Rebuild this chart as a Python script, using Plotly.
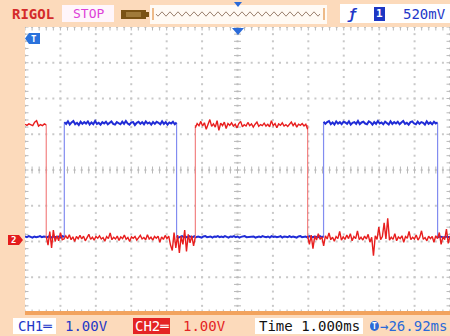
import numpy as np
import plotly.graph_objects as go

W, H = 450, 336

# ---------------- data (oscilloscope capture) ----------------
time_range = [-6.0, 6.0]     # ms (1.000 ms/div, 12 div)
div_range = [-4.0, 4.0]      # vertical divisions

ch1_scale = 1.00   # V/div
ch2_scale = 1.00   # V/div
ch1_offset = -1.87  # div
ch2_offset = -1.90  # div

# CH1 (blue): edge times (ms) and logic levels (V)
ch1_edges = [-6.0, -4.89, -1.72, 2.43, 5.65, 6.0]
ch1_levels = [0.0, 3.18, 0.0, 3.18, 0.0]
# noise, in units of 10 mV, one list per segment
ch1_noise_0 = [1, -1, 2, 0, -2, 1, -1, 0, 2, -1, 1, 0, -1, 2, -2, 1, 0, -1, 1, -2, 2, 0]
ch1_noise_1 = [3, -2, 5, -4, 2, 6, -3, 1, -5, 4, -2, 3, -1, 5, -4, 2, -3, 6, -2, 1,
               -4, 3, -1, 4, -3, 2, 5, -2, -4, 3, 1, -3, 4, -2, 6, -1, -4, 2, 3, -5,
               1, 4, -2, 3, -3, 5, -1, 2, -4, 3, -2, 4, 1, -3, 5, -2, 3, -4, 2, -1,
               4, -3, 2]
ch1_noise_2 = [1, -2, 0, 2, -1, 1, -2, 2, 0, -1, 2, -1, 1, 0, -2, 1, 2, -1, 0, 1,
               -2, 1, 0, 2, -1, 1, -1, 2, 0, -2, 1, 0, 2, -1, 1, -2, 0, 1, 2, -1,
               0, -1, 2, 1, -2, 0, 1, -1, 2, 0, -1, 1, -2, 2, 0, 1, -1, 0, 2, -2,
               1, 0, -1, 2, -1, 1, 0, -2, 1, 2, -1, 0, 1, -2, 2, 0, -1, 1, 0, -1,
               2, -1, 1]
ch1_noise_3 = [4, -2, 3, 6, -3, 2, -4, 5, -1, 3, -3, 4, 2, -2, 5, -4, 1, 3, -2, 6,
               -3, 2, 4, -1, -3, 5, 2, -4, 3, -2, 6, -1, 2, -3, 4, 1, -4, 5, -2, 3,
               -1, 4, -3, 2, 6, -2, 1, -4, 3, 5, -1, -3, 4, -2, 3, 1, -4, 5, -2, 2,
               -3, 4, -1, 2]
ch1_noise_4 = [-1, 1, 0, -2, 1, 0, -1]

# CH2 (red)
ch2_edges = [-6.0, -5.40, -1.19, 1.98, 6.0]
ch2_levels = [3.16, 0.0, 3.16, 0.0]
ch2_noise_0 = [2, -1, 3, 0, -2, 8, 12, -3, 1, -2, 3, 0]
ch2_noise_1 = [4, -20, 18, -28, 22, -10, 6, -8, 15, -5,
               -3, 6, -2, 9, -5, 3, -10, 4, -2, 7,
               -3, 5, -8, 2, 10, -4, 2, -6, 4, -1,
               6, -3, 1, -9, 4, -2, 14, -5, 2, -3,
               5, -7, 3, -2, 8, -4, 1, -10, 3, -1,
               4, -6, 2, 7, -3, 1, -5, 9, -3, 2,
               -6, 4, -1, 5, -12, 3, -4, 7, -2, 5,
               -20, -35, 15, -28, 8, -42, 5, -18, 22, -38,
               10, -14, 6, -22, 3]
ch2_noise_2 = [-8, 4, -2, 10, -3, 6, -12, 2, 15, -4,
               3, -6, 12, -15, 5, -2, 8, -10, 4, -1,
               6, -3, 2, -8, 4, 10, -5, 1, -3, 7,
               -2, 3, -6, 2, 8, -4, 1, -2, 5, -3,
               2, -5, 12, -2, 4, -8, 3, -1, 6, -3,
               1, -4, 3, 8, -2, 5, -6, 2, -1, 4,
               -3, 2, -12]
ch2_noise_3 = [6, -18, 8, -30, 5, -6, 12, -4, 3, -22,
               6, -3, 14, -5, 2, -9, 4, -2, 18, -6,
               3, -4, 8, -2, 12, -8, 4, -2, 20, -5,
               2, -6, 5, -3, 10, -12, 2, -50, 6, -4,
               30, -5, 4, 42, -3, 55, -6, 2, -4, 12,
               -8, 3, -2, 6, -12, 4, -1, 18, -5, 2,
               -3, 8, -6, 2, 20, -4, 1, -8, 5, -2,
               4, -12, 6, -2, 15, -18, 3, -5, 25, -15,
               5]

ch1_noise = [ch1_noise_0, ch1_noise_1, ch1_noise_2, ch1_noise_3, ch1_noise_4]
ch2_noise = [ch2_noise_0, ch2_noise_1, ch2_noise_2, ch2_noise_3]

# status bar texts
txt_brand = "RIGOL"
txt_state = "STOP"
txt_trig_level = "520mV"
txt_ch1 = "CH1═"
txt_ch1_scale = "1.00V"
txt_ch2 = "CH2═"
txt_ch2_scale = "1.00V"
txt_time = "Time 1.000ms"
txt_delay = "→26.92ms"

# ---------------- styles ----------------
PEACH = "#fcdabb"
BLUE = "rgb(32,44,214)"
BLUE_EDGE = "rgb(130,140,240)"
RED = "rgb(232,30,30)"
RED_EDGE = "rgb(242,130,130)"
MONO = "DejaVu Sans Mono"


def build(edges, levels, noise, scale, offset):
    xs, ys, ex, ey = [], [], [], []
    for k in range(len(levels)):
        n = noise[k]
        t = np.linspace(edges[k], edges[k + 1], len(n))
        v = levels[k] + np.array(n) / 100.0
        xs += list(t) + [None]
        ys += list(v / scale + offset) + [None]
        if k + 1 < len(levels):
            ex += [edges[k + 1], edges[k + 1], None]
            ey += [levels[k] / scale + offset, levels[k + 1] / scale + offset, None]
    return xs, ys, ex, ey


fig = go.Figure()

# ---- graticule ----
gx, gy = [], []
for xv in range(-6, 7):
    for yv in np.arange(-4, 4.001, 0.2):
        gx.append(xv); gy.append(yv)
for yv in range(-4, 5):
    for xv in np.arange(-6, 6.001, 0.2):
        gx.append(xv); gy.append(yv)
fig.add_trace(go.Scatter(x=gx, y=gy, mode="markers", hoverinfo="skip",
                         marker=dict(symbol="square", size=2, color="#c8c8c8", line=dict(width=0))))
tx = list(np.arange(-6, 6.001, 0.2))
fig.add_trace(go.Scatter(x=tx * 3, y=[0] * len(tx) + [4] * len(tx) + [-4] * len(tx),
                         mode="markers", hoverinfo="skip",
                         marker=dict(symbol="line-ns", size=5, line=dict(width=1, color="#b8b8b8"))))
ty = list(np.arange(-4, 4.001, 0.2))
fig.add_trace(go.Scatter(x=[0] * len(ty) + [-6] * len(ty) + [6] * len(ty), y=ty * 3,
                         mode="markers", hoverinfo="skip",
                         marker=dict(symbol="line-ew", size=5, line=dict(width=1, color="#b8b8b8"))))

# ---- traces ----
b_x, b_y, b_ex, b_ey = build(ch1_edges, ch1_levels, ch1_noise, ch1_scale, ch1_offset)
r_x, r_y, r_ex, r_ey = build(ch2_edges, ch2_levels, ch2_noise, ch2_scale, ch2_offset)

fig.add_trace(go.Scatter(x=b_ex, y=b_ey, mode="lines", line=dict(color=BLUE_EDGE, width=1.2), hoverinfo="skip"))
fig.add_trace(go.Scatter(x=b_x, y=b_y, mode="lines", line=dict(color=BLUE, width=2), name="CH1"))
fig.add_trace(go.Scatter(x=r_ex, y=r_ey, mode="lines", line=dict(color=RED_EDGE, width=1.2), hoverinfo="skip"))
fig.add_trace(go.Scatter(x=r_x, y=r_y, mode="lines", line=dict(color=RED, width=1.4), name="CH2"))


def P(px, py):
    return px / W, 1 - py / H


shapes = []
annos = []


def rect(x0, y0, x1, y1, fill, line=None):
    a, b = P(x0, y0)
    c, d = P(x1, y1)
    shapes.append(dict(type="rect", xref="paper", yref="paper", x0=a, y0=b, x1=c, y1=d,
                       fillcolor=fill, line=dict(width=0 if line is None else 1, color=line or fill),
                       layer="above"))


def path(pts, fill, closed=True, lw=0, lc=None):
    s = ""
    for i, (px, py) in enumerate(pts):
        a, b = P(px, py)
        s += ("M" if i == 0 else "L") + f"{a:.5f},{b:.5f}"
    if closed:
        s += "Z"
    shapes.append(dict(type="path", xref="paper", yref="paper", path=s,
                       fillcolor=fill if closed else None,
                       line=dict(width=lw, color=lc or fill), layer="above"))


def text(px, py, s, color, size=13, anchor="center", bg=None, bold=False):
    a, b = P(px, py)
    annos.append(dict(x=a, y=b, xref="paper", yref="paper", text=(f"<b>{s}</b>" if bold else s),
                      showarrow=False, xanchor=anchor, yanchor="middle",
                      font=dict(family=MONO, size=size, color=color),
                      bgcolor=bg, borderpad=0))


# bottom orange rule of screen
rect(25, 311, 450, 315, "#f2a35e")

# ---- header ----
text(11, 14, txt_brand, "#d42a2a", size=14, anchor="left", bold=True)
rect(62, 5, 114, 22, "#fff6fb")
text(88, 14, txt_state, "#dd3fd8", size=13)
# battery-like icon
rect(121, 10, 146, 19, "#7a5214")
rect(146, 12, 149, 17, "#7a5214")
rect(126, 12, 141, 17, "#a07a3a")
# memory strip
rect(150, 5, 327, 24, "#fffaf4")
path([(153, 8), (153, 20)], None, closed=False, lw=1.5, lc="#e7a465")
path([(324, 8), (324, 20)], None, closed=False, lw=1.5, lc="#e7a465")
zz = [(156 + i * 2.0, 14 + (2.2 if (i // 2) % 2 == 0 else -2.2) * (i % 2)) for i in range(0, 83)]
path(zz, None, closed=False, lw=1, lc="#9c8270")
path([(234, 2), (242, 2), (238, 7)], "#2a6ad8")
# right box
rect(340, 4, 450, 23, "#ffffff")
text(352, 14, "<i>ƒ</i>", "#2338c8", size=14, bold=True)
rect(374, 7, 385, 21, "#1d36c4")
text(379.5, 14, "1", "#ffffff", size=11, bold=True)
text(424, 14, txt_trig_level, "#2338c8", size=14)

# ---- screen markers ----
path([(232, 28), (244, 28), (238, 35)], "#2a6ad8")
path([(25, 38.5), (29, 33), (40, 33), (40, 44), (29, 44)], "#2a72dc")
text(34, 38.5, "T", "#ffffff", size=9, bold=True)
path([(8, 235), (19, 235), (23, 240), (19, 245), (8, 245)], "#e41c1c")
text(13.5, 240, "2", "#ffffff", size=9, bold=True)

# ---- footer ----
rect(13, 318, 56, 334, "#ffffff")
text(34.5, 326, txt_ch1, "#2338c8", size=14)
text(86, 326, txt_ch1_scale, "#2338c8", size=14)
rect(133, 318, 170, 334, "#e42424")
text(151.5, 326, txt_ch2, "#ffffff", size=14)
text(204, 326, txt_ch2_scale, "#e42424", size=14)
rect(255, 318, 363, 334, "#ffffff")
text(309, 326, txt_time, "#111111", size=14)
a, b = P(370, 321)
c, d = P(379, 331)
shapes.append(dict(type="circle", xref="paper", yref="paper", x0=a, y0=b, x1=c, y1=d,
                   fillcolor="#2a6ad8", line=dict(width=0), layer="above"))
text(374.5, 326, "T", "#ffffff", size=8, bold=True)
text(379, 326, txt_delay, "#2a6ad8", size=14, anchor="left")

fig.update_layout(
    width=W, height=H,
    margin=dict(l=0, r=0, t=0, b=0),
    paper_bgcolor=PEACH,
    plot_bgcolor="#ffffff",
    showlegend=False,
    shapes=shapes,
    annotations=annos,
    xaxis=dict(domain=[25 / W, 1.0], range=time_range, showgrid=False, zeroline=False,
               showticklabels=False, ticks="", fixedrange=True),
    yaxis=dict(domain=[1 - 313 / H, 1 - 27 / H], range=div_range, showgrid=False, zeroline=False,
               showticklabels=False, ticks="", fixedrange=True),
)

fig.write_html("out.html")
